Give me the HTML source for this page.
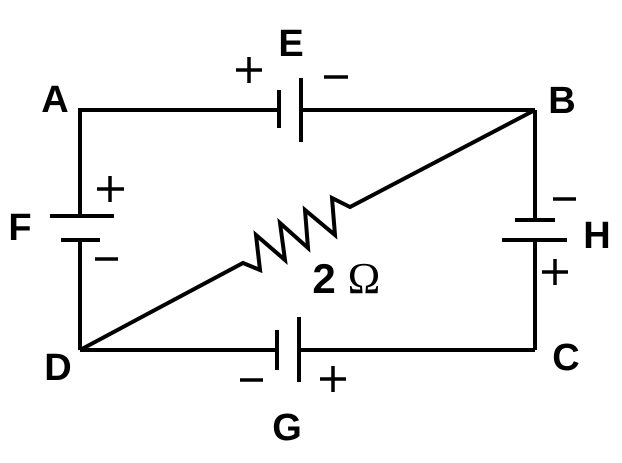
<!DOCTYPE html>
<html><head><style>
html,body{margin:0;padding:0;background:#fff;}
svg{display:block;}
.l{font-family:"Liberation Sans",sans-serif;font-weight:bold;font-size:38px;fill:#000;text-anchor:middle;}
</style></head><body>
<svg width="622" height="463" viewBox="0 0 622 463" xmlns="http://www.w3.org/2000/svg">
<g stroke="#000" stroke-width="4" fill="none" stroke-linecap="butt">
<polyline points="80,216 80,110 279,110"/>
<line x1="301" y1="110" x2="535" y2="110"/>
<line x1="279" y1="90" x2="279" y2="128"/>
<line x1="301" y1="78" x2="301" y2="142"/>
<line x1="50" y1="216" x2="114" y2="216"/>
<line x1="61" y1="240" x2="100" y2="240"/>
<line x1="80" y1="240" x2="80" y2="350"/>
<line x1="80" y1="350" x2="277" y2="350"/>
<line x1="299" y1="350" x2="535" y2="350"/>
<line x1="277" y1="330" x2="277" y2="370"/>
<line x1="299" y1="317" x2="299" y2="382"/>
<line x1="535" y1="110" x2="535" y2="220"/>
<line x1="515" y1="220" x2="555" y2="220"/>
<line x1="502" y1="240" x2="567" y2="240"/>
<line x1="535" y1="240" x2="535" y2="350"/>
<polyline stroke-linejoin="miter" points="80,350 243,263 260,270 256,235 285,260 280,223 308,248 305,210 335,235 332,198 350,207 535,110"/>
</g>
<g stroke="#000" stroke-width="3.5" fill="none">
<line x1="236" y1="70" x2="262" y2="70"/><line x1="249" y1="57" x2="249" y2="83"/>
<line x1="324" y1="77" x2="348" y2="77"/>
<line x1="97" y1="189" x2="124" y2="189"/><line x1="110" y1="176" x2="110" y2="202"/>
<line x1="95" y1="259" x2="118" y2="259"/>
<line x1="553" y1="199" x2="576" y2="199"/>
<line x1="542" y1="272" x2="568" y2="272"/><line x1="555" y1="259" x2="555" y2="285"/>
<line x1="240" y1="380" x2="263" y2="380"/>
<line x1="320" y1="379" x2="346" y2="379"/><line x1="333" y1="366" x2="333" y2="392"/>
</g>
<text class="l" x="55" y="112">A</text>
<text class="l" x="291" y="56">E</text>
<text class="l" x="562" y="113">B</text>
<text class="l" x="20" y="240">F</text>
<text class="l" x="597" y="248">H</text>
<text class="l" x="58" y="380">D</text>
<text class="l" x="566" y="370">C</text>
<text class="l" x="287" y="440">G</text>
<text class="l" x="324" y="293" style="font-size:42px">2</text>
<text x="364" y="293" style="font-family:'Liberation Serif',serif;font-size:44px;text-anchor:middle;fill:#000">Ω</text>
</svg>
</body></html>
